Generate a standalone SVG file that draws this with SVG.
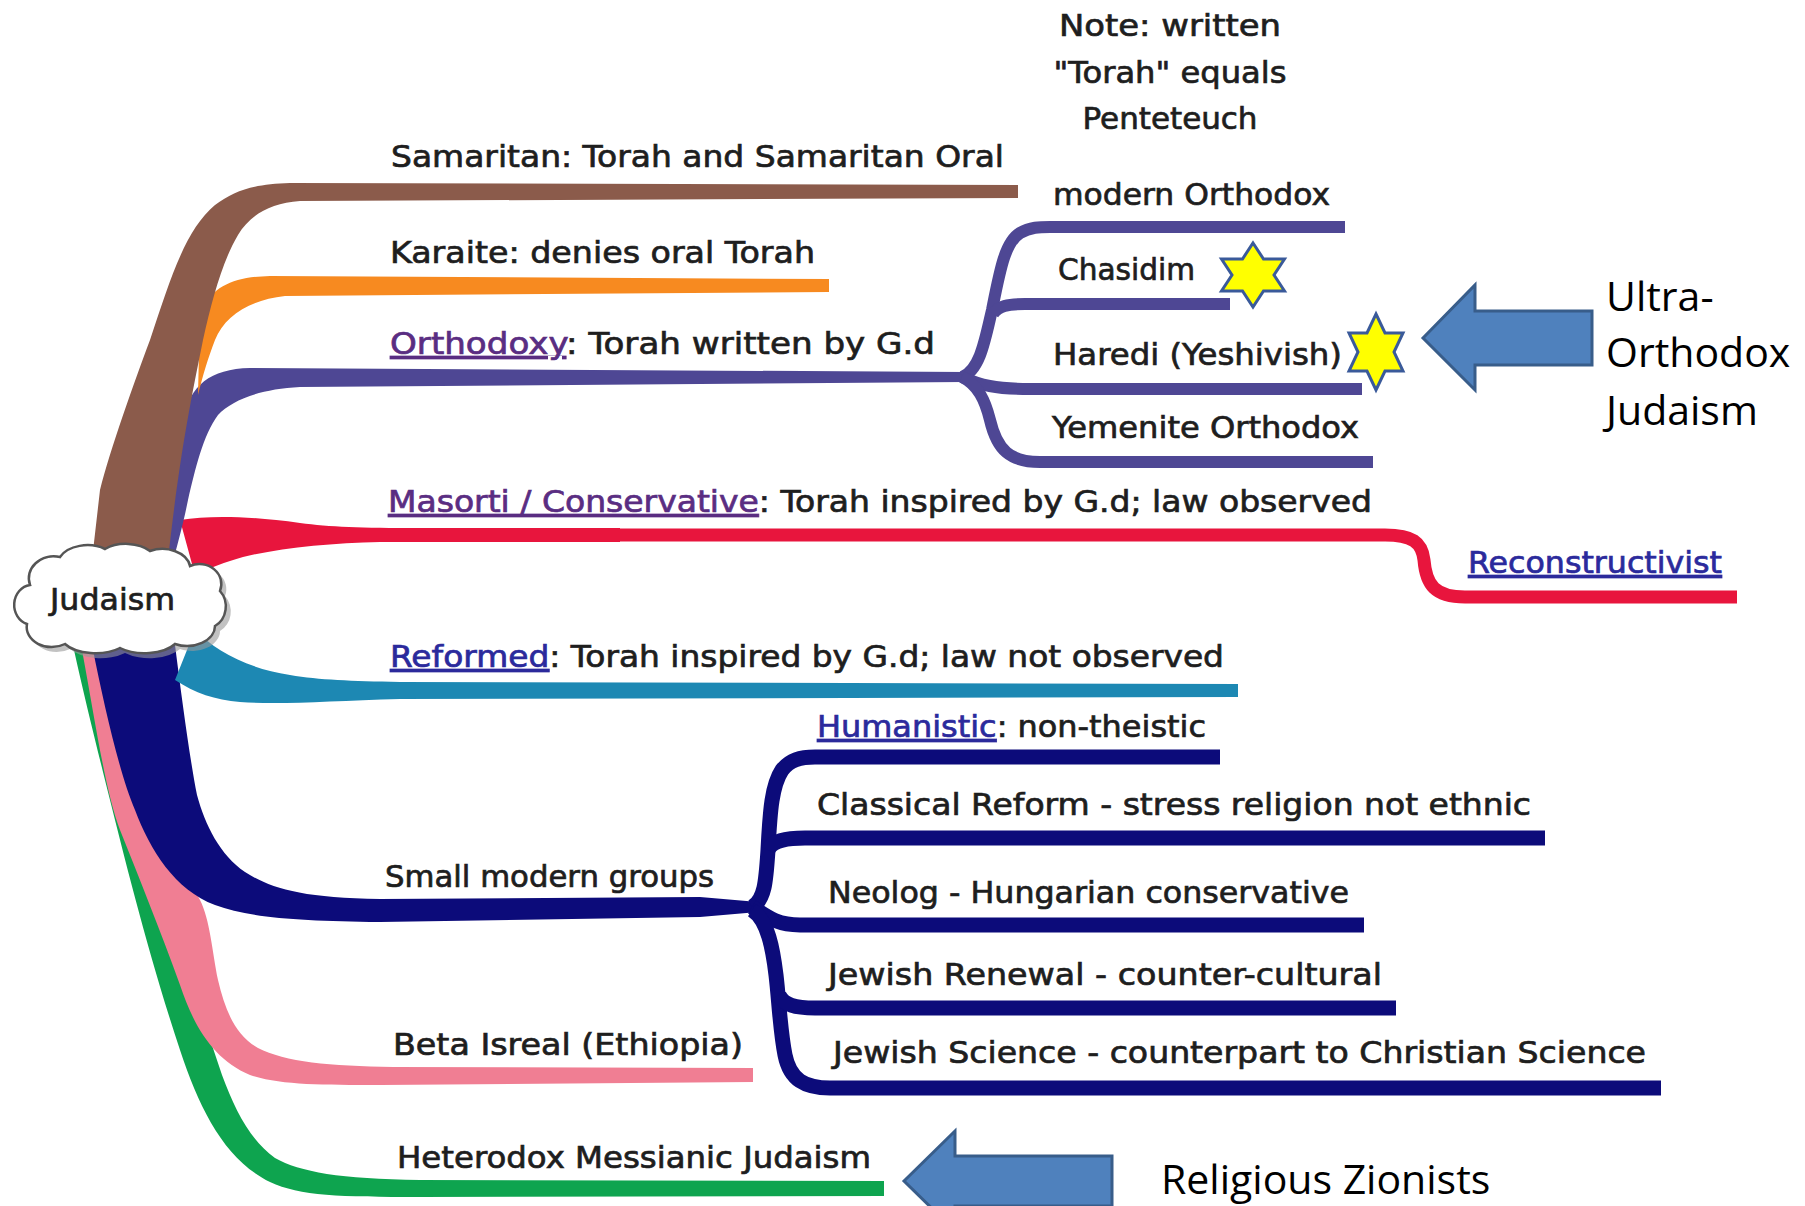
<svg xmlns="http://www.w3.org/2000/svg" width="1805" height="1206" viewBox="0 0 1805 1206">
<style>
.t{font-family:"DejaVu Sans","Liberation Sans",sans-serif;font-size:30px;fill:#1e1e1e;stroke:#1e1e1e;stroke-width:0.7}
.c{font-family:"Open Sans","Liberation Sans",sans-serif;font-size:41px;fill:#000}
.lp{fill:#5a2d82;stroke:#5a2d82;text-decoration:underline}
.lb{fill:#2b2a9c;stroke:#2b2a9c;text-decoration:underline}
.sub{fill:none;stroke-linecap:butt;stroke-linejoin:round}
.pu{stroke:#4e4794;stroke-width:12}
.nv{stroke:#0c0b7a;stroke-width:15}
.star{fill:#ffff00;stroke:#3a5a9a;stroke-width:3;stroke-linejoin:miter}
.arrow{fill:#4f81bd;stroke:#385d8a;stroke-width:3;stroke-linejoin:miter}
</style>
<rect width="1805" height="1206" fill="#ffffff"/>

<g id="connectors">
  <!-- green: Heterodox Messianic -->
  <path fill="#0ea44f" d="M 74,650 C 85,700 100,760 110,800 C 125,860 150,960 180,1050 C 200,1110 225,1160 270,1182 C 300,1196 340,1197 420,1197 L 884,1196 L 884,1181 L 420,1180 C 340,1179 300,1172 275,1158 C 250,1140 235,1110 222,1075 C 200,1010 185,960 170,930 C 150,880 135,840 124,800 C 110,750 95,700 86,650 Z"/>
  <!-- pink: Beta Isreal -->
  <path fill="#f07e93" d="M 82,650 C 95,720 105,790 120,830 C 140,880 160,930 180,985 C 195,1030 215,1060 250,1075 C 280,1085 320,1085 380,1085 L 753,1082 L 753,1068 L 393,1067 C 330,1066 285,1062 258,1048 C 235,1035 225,1010 218,980 C 212,950 210,920 200,900 C 180,860 150,820 135,790 C 115,740 105,700 97,650 Z"/>
  <!-- navy: Small modern groups -->
  <path fill="#0c0b7a" d="M 92,645 C 105,710 120,775 135,810 C 150,850 175,890 215,905 C 250,918 300,921 380,922 L 700,917 L 758,912 L 758,902 L 700,897 L 380,899 C 300,898 270,888 245,872 C 220,855 205,825 197,795 C 190,760 182,700 175,645 Z"/>
  <path class="sub nv" d="M 752,907 C 765,900 766,880 768,850 C 770,810 772,785 782,770 C 790,760 800,757 815,757 L 1220,757"/>
  <path class="sub nv" d="M 768,850 C 772,841 785,838 805,838 L 1545,838"/>
  <path class="sub nv" d="M 752,907 C 765,915 775,925 800,925 L 1364,925"/>
  <path class="sub nv" d="M 752,910 C 768,920 773,950 776,975 C 779,1000 780,1030 785,1055 C 790,1080 805,1088 830,1088 L 1661,1088"/>
  <path class="sub nv" d="M 779,995 C 784,1005 795,1008 815,1008 L 1396,1008"/>
  <!-- teal: Reformed -->
  <path fill="#1d88b3" d="M 195,630 C 215,650 245,668 290,675 C 320,680 350,681 400,682 L 1238,684 L 1238,697 L 400,699 C 330,701 280,705 240,702 C 215,700 195,693 175,680 Z"/>
  <!-- red: Masorti / Conservative -> Reconstructivist -->
  <path fill="#e8153d" d="M 180,520 C 210,515 250,516 300,523 C 330,527 360,528 420,528 L 620,528 L 620,542 L 380,542 C 330,543 280,548 243,557 C 225,562 210,568 195,575 Z"/>
  <path fill="none" stroke="#e8153d" stroke-width="13" d="M 600,535 L 1385,535 C 1412,535 1422,542 1424,560 C 1426,585 1435,597 1465,597 L 1737,597"/>
  <!-- purple: Orthodoxy -->
  <path fill="#4e4794" d="M 183,420 C 190,385 210,369 250,368 L 965,372 L 965,382 L 300,387 C 260,389 232,400 218,415 C 203,435 195,470 188,500 C 184,520 180,535 176,550 L 165,550 Z"/>
  <path class="sub pu" d="M 962,377 C 980,370 985,340 992,310 C 1000,270 1005,242 1020,233 C 1030,227 1040,227 1050,227 L 1345,227"/>
  <path class="sub pu" d="M 993,314 C 998,306 1008,304 1025,304 L 1230,304"/>
  <path class="sub pu" d="M 962,377 C 980,385 995,389 1030,389 L 1362,389"/>
  <path class="sub pu" d="M 962,377 C 978,385 985,400 990,420 C 997,450 1010,462 1040,462 L 1373,462"/>
  <!-- orange: Karaite -->
  <path fill="#f78a20" d="M 200,310 C 215,285 235,277 270,276 L 829,279 L 829,292 L 285,296 C 250,300 225,315 215,340 C 208,358 203,375 198,395 Z"/>
  <!-- brown: Samaritan -->
  <path fill="#8b5b4b" d="M 92,560 L 100,490 C 110,450 135,380 150,340 C 170,280 185,230 215,205 C 235,190 255,184 290,183 L 1018,185 L 1018,198 L 300,201 C 270,203 250,215 238,235 C 222,262 212,300 203,340 C 193,390 180,450 168,560 Z"/>
</g>

<g id="node-judaism">
  <path fill="#9a9a9a" opacity="0.6" transform="translate(5,5)" d="M 30,585 a 25,22 0 0 1 30,-28 a 30,20 0 0 1 45,-8 a 30,18 0 0 1 45,2 a 28,20 0 0 1 40,15 a 22,20 0 0 1 30,25 a 20,22 0 0 1 -5,35 a 28,20 0 0 1 -40,18 a 35,18 0 0 1 -55,4 a 35,18 0 0 1 -55,-4 a 25,20 0 0 1 -38,-20 a 18,20 0 0 1 3,-39 Z"/>
  <path fill="#ffffff" stroke="#555555" stroke-width="2.5" d="M 30,585 a 25,22 0 0 1 30,-28 a 30,20 0 0 1 45,-8 a 30,18 0 0 1 45,2 a 28,20 0 0 1 40,15 a 22,20 0 0 1 30,25 a 20,22 0 0 1 -5,35 a 28,20 0 0 1 -40,18 a 35,18 0 0 1 -55,4 a 35,18 0 0 1 -55,-4 a 25,20 0 0 1 -38,-20 a 18,20 0 0 1 3,-39 Z"/>
  <text class="t" x="50" y="610" textLength="125" lengthAdjust="spacingAndGlyphs">Judaism</text>
</g>

<g id="node-note">
  <text class="t" x="1170" y="36" text-anchor="middle" textLength="222" lengthAdjust="spacingAndGlyphs">Note: written</text>
  <text class="t" x="1170" y="83" text-anchor="middle" textLength="233" lengthAdjust="spacingAndGlyphs">"Torah" equals</text>
  <text class="t" x="1170" y="129" text-anchor="middle" textLength="175" lengthAdjust="spacingAndGlyphs">Penteteuch</text>
</g>

<g id="node-samaritan"><text class="t" x="391" y="167" textLength="613" lengthAdjust="spacingAndGlyphs">Samaritan: Torah and Samaritan Oral</text></g>
<g id="node-karaite"><text class="t" x="390" y="263" textLength="425" lengthAdjust="spacingAndGlyphs">Karaite: denies oral Torah</text></g>
<g id="node-orthodoxy"><text class="t" x="390" y="354" textLength="545" lengthAdjust="spacingAndGlyphs"><tspan class="lp">Orthodoxy</tspan>: Torah written by G.d</text></g>
<g id="node-modern-orthodox"><text class="t" x="1053" y="205" textLength="277" lengthAdjust="spacingAndGlyphs">modern Orthodox</text></g>
<g id="node-chasidim"><text class="t" x="1058" y="280" textLength="137" lengthAdjust="spacingAndGlyphs">Chasidim</text>
  <polygon class="star" points="1253,243 1263.5,259 1284.5,259 1274,275 1284.5,291 1263.5,291 1253,307 1242.5,291 1221.5,291 1232,275 1221.5,259 1242.5,259"/></g>
<g id="node-haredi"><text class="t" x="1053" y="365" textLength="289" lengthAdjust="spacingAndGlyphs">Haredi (Yeshivish)</text>
  <polygon class="star" points="1376,314 1385,333 1403,333 1394,352 1403,371 1385,371 1376,390 1367,371 1349,371 1358,352 1349,333 1367,333"/></g>
<g id="node-yemenite"><text class="t" x="1052" y="438" textLength="307" lengthAdjust="spacingAndGlyphs">Yemenite Orthodox</text></g>
<g id="node-masorti"><text class="t" x="388" y="512" textLength="984" lengthAdjust="spacingAndGlyphs"><tspan class="lp">Masorti / Conservative</tspan>: Torah inspired by G.d; law observed</text></g>
<g id="node-reconstructivist"><text class="t" x="1468" y="573" textLength="254" lengthAdjust="spacingAndGlyphs"><tspan class="lb">Reconstructivist</tspan></text></g>
<g id="node-reformed"><text class="t" x="390" y="667" textLength="834" lengthAdjust="spacingAndGlyphs"><tspan class="lb">Reformed</tspan>: Torah inspired by G.d; law not observed</text></g>
<g id="node-humanistic"><text class="t" x="817" y="737" textLength="389" lengthAdjust="spacingAndGlyphs"><tspan class="lb">Humanistic</tspan>: non-theistic</text></g>
<g id="node-classical"><text class="t" x="817" y="815" textLength="714" lengthAdjust="spacingAndGlyphs">Classical Reform - stress religion not ethnic</text></g>
<g id="node-small"><text class="t" x="385" y="887" textLength="329" lengthAdjust="spacingAndGlyphs">Small modern groups</text></g>
<g id="node-neolog"><text class="t" x="828" y="903" textLength="521" lengthAdjust="spacingAndGlyphs">Neolog - Hungarian conservative</text></g>
<g id="node-renewal"><text class="t" x="828" y="985" textLength="554" lengthAdjust="spacingAndGlyphs">Jewish Renewal - counter-cultural</text></g>
<g id="node-science"><text class="t" x="833" y="1063" textLength="813" lengthAdjust="spacingAndGlyphs">Jewish Science - counterpart to Christian Science</text></g>
<g id="node-beta"><text class="t" x="393" y="1055" textLength="350" lengthAdjust="spacingAndGlyphs">Beta Isreal (Ethiopia)</text></g>
<g id="node-heterodox"><text class="t" x="397" y="1168" textLength="474" lengthAdjust="spacingAndGlyphs">Heterodox Messianic Judaism</text></g>

<g id="node-ultra">
  <polygon class="arrow" points="1423,338 1475,285 1475,311 1592,311 1592,365 1475,365 1475,390"/>
  <text class="c" x="1606" y="311">Ultra-</text>
  <text class="c" x="1606" y="367">Orthodox</text>
  <text class="c" x="1606" y="425">Judaism</text>
</g>
<g id="node-zionists">
  <polygon class="arrow" points="904,1181 955,1131 955,1156 1112,1156 1112,1206 955,1206 955,1231"/>
  <text class="c" x="1161" y="1194">Religious Zionists</text>
</g>
</svg>
